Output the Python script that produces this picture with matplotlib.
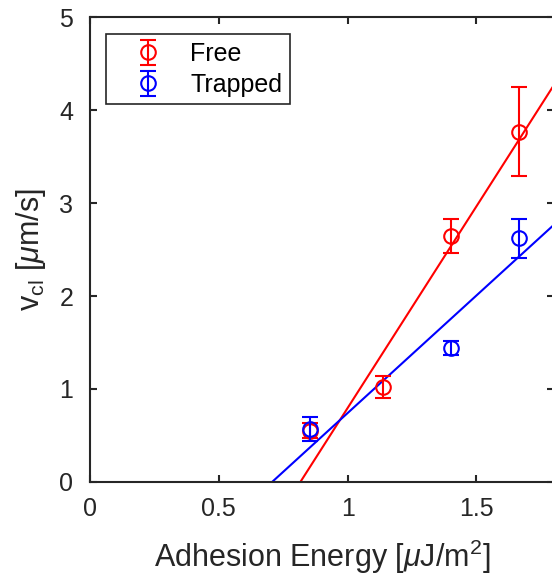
import numpy as np
import matplotlib.pyplot as plt

plt.rcParams['font.family'] = ['Liberation Sans', 'DejaVu Sans']
plt.rcParams['mathtext.fontset'] = 'custom'
plt.rcParams['mathtext.rm'] = 'Liberation Sans'
plt.rcParams['mathtext.it'] = 'Liberation Sans:italic'

# measured points
free_x = [0.856, 1.136, 1.400, 1.665]
free_y = [0.55, 1.02, 2.645, 3.77]
free_err = [0.08, 0.12, 0.18, 0.48]

trap_x = [0.856, 1.400, 1.665]
trap_y = [0.57, 1.44, 2.62]
trap_err = [0.13, 0.08, 0.21]

# linear fits (slope, intercept)
free_fit = [4.34, -3.546]
trap_fit = [2.53, -1.79]

red = '#ff0000'
blue = '#0000ff'
dark = '#262626'

fig = plt.figure(figsize=(5.52, 5.75), dpi=100)
ax = fig.add_axes([0.163, 0.162, 0.840, 0.808])

xx = np.array([0.0, 1.8])
ax.plot(xx, free_fit[0] * xx + free_fit[1], color=red, lw=1.5, zorder=2)
ax.plot(xx, trap_fit[0] * xx + trap_fit[1], color=blue, lw=1.5, zorder=2)

ax.errorbar(free_x, free_y, yerr=free_err, fmt='o', mfc='none', mec=red,
            ecolor=red, ms=10.5, mew=1.5, elinewidth=1.5, capsize=5.5, capthick=1.5,
            label='Free', zorder=3)
ax.errorbar(trap_x, trap_y, yerr=trap_err, fmt='o', mfc='none', mec=blue,
            ecolor=blue, ms=10.5, mew=1.5, elinewidth=1.5, capsize=5.5, capthick=1.5,
            label='Trapped', zorder=4)

ax.set_xlim(0, 1.8)
ax.set_ylim(0, 5)
ax.set_xticks([0, 0.5, 1, 1.5])
ax.set_xticklabels(['0', '0.5', '1', '1.5'])
ax.set_yticks([0, 1, 2, 3, 4, 5])

for s in ax.spines.values():
    s.set_color(dark)
    s.set_linewidth(1.5)
ax.tick_params(direction='in', length=5, width=1.5, colors=dark, labelsize=18,
               top=True, right=True, pad=11)
ax.tick_params(axis='y', pad=12)

ax.set_xlabel(r'Adhesion Energy [$\mu$J/m$^2$]', fontsize=22, color=dark, labelpad=12)
ax.set_ylabel(r'v$_{\rm cl}$ [$\mu$m/s]', fontsize=22, color=dark, labelpad=8)

leg = ax.legend(loc='upper left', bbox_to_anchor=(0.035, 0.963), borderaxespad=0,
                fontsize=18, frameon=True, fancybox=False, handlelength=2.76,
                borderpad=0.3, labelspacing=0.28, handletextpad=0.3)
leg.get_frame().set_edgecolor(dark)
leg.get_frame().set_linewidth(1.2)
leg.get_frame().set_alpha(1)

fig.savefig('out.png', dpi=100)
